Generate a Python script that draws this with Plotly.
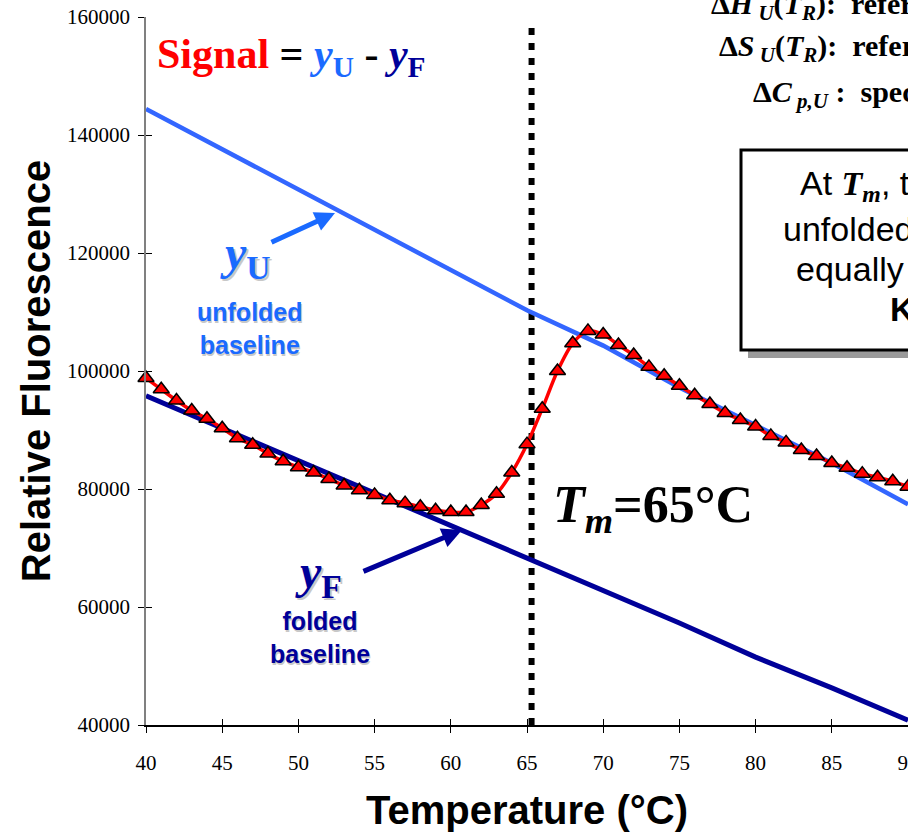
import plotly.graph_objects as go

# ---------------- data ----------------
temps = list(range(40, 91))
signal = [98800, 96900, 95000, 93300, 91900, 90300, 88600, 87500, 86000, 84700,
          83700, 82800, 81700, 80600, 79800, 79000, 78100, 77600, 77000, 76400,
          76100, 76100, 77300, 79200, 82800, 87600, 93600, 100000, 104700, 106800,
          106200, 104400, 102700, 100700, 99200, 97500, 95900, 94400, 92900, 91700,
          90600, 89000, 87900, 86600, 85600, 84400, 83600, 82600, 82000, 81300, 80400]
base_t = [40, 45, 50, 55, 60, 65, 70, 75, 80, 85, 90]
y_unfolded = [144400, 137600, 130800, 124000, 117200, 110300, 104300, 97200, 90800, 84400, 77400]
y_folded = [95800, 90300, 84800, 79300, 73800, 68300, 62800, 57300, 51500, 46300, 40800]
x_ticks = [40, 45, 50, 55, 60, 65, 70, 75, 80, 85, 90]
y_ticks = [40000, 60000, 80000, 100000, 120000, 140000, 160000]
TM_LINE = 65.3

X_RANGE = [40, 90]
Y_RANGE = [40000, 160000]

# ---------------- layout geometry ----------------
W, H = 908, 832
ML, MT, MB, MR = 146, 17, 107, 0
PW, PH = W - ML - MR, H - MT - MB

def px(x):  # pixel x -> paper
    return (x - ML) / PW

def py(y):  # pixel y -> paper
    return (H - MB - y) / PH

def dxp(x):  # pixel -> data x
    return X_RANGE[0] + (x - ML) / PW * (X_RANGE[1] - X_RANGE[0])

def dyp(y):
    return Y_RANGE[0] + (H - MB - y) / PH * (Y_RANGE[1] - Y_RANGE[0])

BLUE = "#3366ff"
BLUE_TXT = "#1a6aff"
NAVY = "#000099"
SERIF = "Liberation Serif"
SANS = "Liberation Sans"

fig = go.Figure()

fig.add_trace(go.Scatter(x=base_t, y=y_unfolded, mode="lines",
                         line=dict(color=BLUE, width=4.5), hoverinfo="skip", showlegend=False))
fig.add_trace(go.Scatter(x=base_t, y=y_folded, mode="lines",
                         line=dict(color=NAVY, width=5), hoverinfo="skip", showlegend=False))
fig.add_trace(go.Scatter(x=temps, y=signal, mode="lines+markers",
                         line=dict(color="red", width=3.5, shape="spline", smoothing=0.8),
                         marker=dict(symbol="triangle-up", size=14, color="red",
                                     line=dict(color="black", width=1.5)),
                         cliponaxis=False, hoverinfo="skip", showlegend=False))
# overlay axes: inner half of the crossing tick marks
fig.add_trace(go.Scatter(x=[None], y=[None], xaxis="x2", yaxis="y2",
                         showlegend=False, hoverinfo="skip"))

shapes = [
    dict(type="line", xref="x", yref="y", x0=TM_LINE, x1=TM_LINE,
         y0=Y_RANGE[0], y1=dyp(20), layer="below",
         line=dict(color="black", width=6, dash="7px,8px")),
    dict(type="rect", xref="paper", yref="paper", x0=px(748), x1=px(1250),
         y0=py(358), y1=py(157), fillcolor="#9a9a9a", line=dict(width=0), layer="above"),
    dict(type="rect", xref="paper", yref="paper", x0=px(741), x1=px(1240),
         y0=py(350), y1=py(150), fillcolor="white",
         line=dict(color="black", width=3), layer="above"),
]

def ann(text, x, y, size, color="black", family=SERIF, xanchor="center", **kw):
    d = dict(text=text, xref="paper", yref="paper", x=px(x), y=py(y),
             xanchor=xanchor, yanchor="middle", showarrow=False,
             font=dict(size=size, color=color, family=family))
    d.update(kw)
    return d

annotations = [
    ann('<span style="color:red"><b>Signal</b></span><b> = </b>'
        f'<span style="color:{BLUE_TXT}"><b><i>y</i><sub>U</sub></b></span><b> - </b>'
        f'<span style="color:{NAVY}"><b><i>y</i><sub>F</sub></b></span>',
        155, 57, 42, xanchor="left"),
    # y_U label + shadow
    ann('<b><i>y</i><sub>U</sub></b>', 247, 258, 48, color="#c8c8c8"),
    ann('<b><i>y</i><sub>U</sub></b>', 245, 256, 48, color=BLUE_TXT),
    ann('<b>unfolded<br>baseline</b>', 251, 330, 25, color="#c8c8c8", family=SANS),
    ann('<b>unfolded<br>baseline</b>', 250, 328, 25, color=BLUE_TXT, family=SANS),
    # y_F label + shadow
    ann('<b><i>y</i><sub>F</sub></b>', 320, 577, 48, color="#c8c8c8"),
    ann('<b><i>y</i><sub>F</sub></b>', 318, 575, 48, color=NAVY),
    ann('<b>folded<br>baseline</b>', 321, 639, 25, color="#c8c8c8", family=SANS),
    ann('<b>folded<br>baseline</b>', 320, 637, 25, color=NAVY, family=SANS),
    # Tm label
    ann('<b><i>T</i><sub><i>m</i></sub>=65°C</b>', 551, 508, 52, xanchor="left"),
    # top-right definitions
    ann('<b>Δ<i>H</i><sub> <i>U</i></sub>(<i>T</i><sub><i>R</i></sub>):  reference enthalpy</b>',
        709, 6, 30, xanchor="left"),
    ann('<b>Δ<i>S</i><sub> <i>U</i></sub>(<i>T</i><sub><i>R</i></sub>):  reference entropy</b>',
        717, 48, 30, xanchor="left"),
    ann('<b>Δ<i>C</i><sub> <i>p,U</i></sub> :  specific heat capacity</b>',
        751, 94, 30, xanchor="left"),
    # box text
    ann(f'At <span style="font-family:{SERIF}"><b><i>T<sub>m</sub></i></b></span>, the protein is',
        798, 185, 34, family=SANS, xanchor="left"),
    ann('unfolded and folded', 781, 229, 34, family=SANS, xanchor="left"),
    ann('equally populated', 794, 269, 34, family=SANS, xanchor="left"),
    ann('<b>K = 1</b>', 888, 309, 34, family=SANS, xanchor="left"),
    # arrows
    dict(text="", x=dxp(335), y=dyp(213), xref="x", yref="y", ax=-65, ay=30,
         showarrow=True, arrowhead=2, arrowsize=0.8, arrowwidth=5, arrowcolor=BLUE_TXT,
         standoff=0),
    dict(text="", x=dxp(462), y=dyp(530), xref="x", yref="y", ax=-100, ay=42,
         showarrow=True, arrowhead=2, arrowsize=0.8, arrowwidth=5, arrowcolor=NAVY,
         standoff=0),
]

tickfont = dict(family=SERIF, size=21, color="black")
fig.update_layout(
    width=W, height=H,
    margin=dict(l=ML, r=MR, t=MT, b=MB, pad=0),
    paper_bgcolor="white", plot_bgcolor="white",
    showlegend=False,
    shapes=shapes, annotations=annotations,
    xaxis=dict(range=X_RANGE, tickvals=x_ticks, ticks="outside", ticklen=6,
               tickcolor="black", tickwidth=1, showline=True, linecolor="black",
               linewidth=1.5, showgrid=False, zeroline=False, tickfont=tickfont,
               ticklabelstandoff=12, ticklabeloverflow="allow", automargin=False,
               title=dict(text="Temperature (°C)", standoff=22,
                          font=dict(family=SANS, size=40, color="black", weight="bold"))),
    yaxis=dict(range=Y_RANGE, tickvals=y_ticks, tickformat="d", ticks="outside", ticklen=6,
               tickcolor="black", tickwidth=1, showline=True, linecolor="#808080",
               linewidth=1.5, showgrid=False, zeroline=False, tickfont=tickfont,
               ticklabelstandoff=4, ticklabeloverflow="allow", automargin=False,
               title=dict(text="Relative Fluorescence", standoff=4,
                          font=dict(family=SANS, size=40, color="black", weight="bold"))),
    xaxis2=dict(range=X_RANGE, overlaying="x", anchor="y2", tickvals=x_ticks,
                ticks="inside", ticklen=6, tickcolor="black", tickwidth=1,
                showticklabels=False, showline=False, showgrid=False, zeroline=False),
    yaxis2=dict(range=Y_RANGE, overlaying="y", anchor="x2", tickvals=y_ticks,
                ticks="inside", ticklen=6, tickcolor="black", tickwidth=1,
                showticklabels=False, showline=False, showgrid=False, zeroline=False),
)

fig.write_html("out.html")
